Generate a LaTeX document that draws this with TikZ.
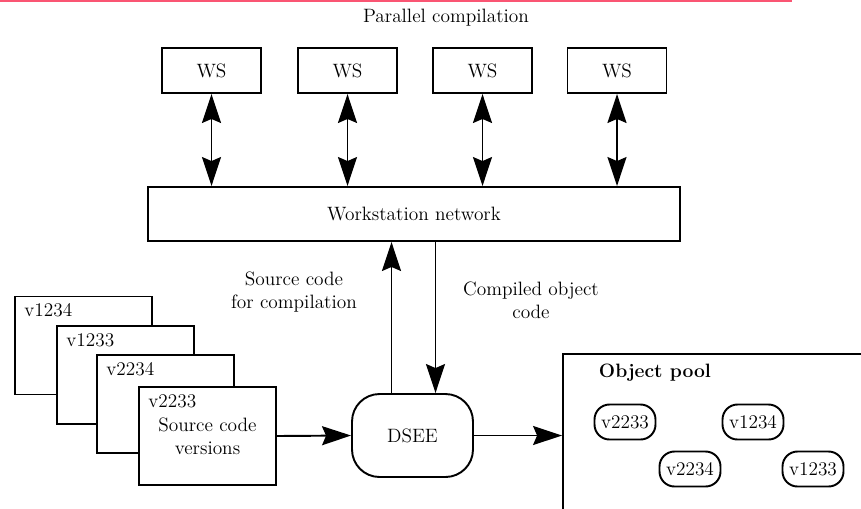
\documentclass[tikz,border=0pt]{standalone}
\usetikzlibrary{arrows.meta}
\definecolor{rulered}{RGB}{250,85,115}
\tikzset{bigtip/.tip = {Stealth[length=0.58cm, width=0.38cm, inset=0.08cm]}}
\begin{document}
\begin{tikzpicture}[
        x=0.02cm, y=-0.02cm,
        every node/.style = {font=\fontsize{11}{13}\selectfont},
        wsbox/.style   = {rectangle, draw, line width=1.1pt, inner sep=0pt,
                          minimum width=1.98cm, minimum height=0.9cm},
        netbox/.style  = {rectangle, draw, line width=1.1pt, inner sep=0pt,
                          minimum width=10.64cm, minimum height=1.08cm},
        srcbox/.style  = {rectangle, draw, fill=white, line width=1.1pt,
                          minimum width=2.74cm, minimum height=1.96cm,
                          align=center},
        dseebox/.style = {rectangle, draw, line width=1.1pt, rounded corners=0.55cm,
                          minimum width=2.42cm, minimum height=1.66cm},
        poolbox/.style = {rectangle, draw, line width=1.1pt,
                          minimum width=8cm, minimum height=4cm},
        objbox/.style  = {rectangle, draw, line width=1.1pt, rounded corners=0.3cm,
                          minimum width=1.22cm, minimum height=0.7cm, inner sep=0pt},
        verlbl/.style  = {anchor=north west, inner sep=0pt},
        lbl/.style     = {align=center},
        arr/.style     = {-bigtip, line width=1.1pt},
        dbl/.style     = {bigtip-bigtip, line width=1.1pt}
    ]
        \useasboundingbox (0,0) rectangle (861,508);
        \draw[rulered, line width=0.03cm] (0,1) -- (792,1);

        \node (title) at (446,18) {Parallel compilation};
        \node[wsbox] (ws1) at (211.5,70.5) {WS};
        \node[wsbox] (ws2) at (347.5,70.5) {WS};
        \node[wsbox] (ws3) at (482.5,70.5) {WS};
        \node[wsbox] (ws4) at (617,70.5)   {WS};
        \node[netbox] (net) at (414,214) {Workstation network};

        \draw[dbl] (ws1.south) -- (ws1.south |- net.north);
        \draw[dbl] (ws2.south) -- (ws2.south |- net.north);
        \draw[dbl] (ws3.south) -- (ws3.south |- net.north);
        \draw[dbl] (ws4.south) -- (ws4.south |- net.north);

        % stacked source versions
        \node[srcbox] (src1) at (83.5,345.5) {};
        \node[verlbl] (v1) at ([shift={(0.2cm,-0.16cm)}]src1.north west) {v1234};
        \node[srcbox] (src2) at (125.5,375) {};
        \node[verlbl] (v2) at ([shift={(0.2cm,-0.16cm)}]src2.north west) {v1233};
        \node[srcbox] (src3) at (165.5,404) {};
        \node[verlbl] (v3) at ([shift={(0.2cm,-0.16cm)}]src3.north west) {v2234};
        \node[srcbox] (src4) at (207.5,436) {Source code\\versions};
        \node[verlbl] (v4) at ([shift={(0.2cm,-0.16cm)}]src4.north west) {v2233};

        \node[dseebox] (dsee) at (412.5,435.5) {DSEE};

        % object pool, running off the page
        \node[poolbox] (pool) at (763,454) {};
        \node[font=\fontsize{11}{13}\selectfont\bfseries] (pooltitle) at (655,373) {Object pool};
        \node[objbox] (o1) at (625,422) {v2233};
        \node[objbox] (o2) at (753,422) {v1234};
        \node[objbox] (o3) at (690,469) {v2234};
        \node[objbox] (o4) at (813,469) {v1233};

        \node[lbl] (uplbl) at (294,292) {Source code\\for compilation};
        \node[lbl] (downlbl) at (531,300) {Compiled object\\code};

        \draw[arr] ([xshift=-0.42cm]dsee.north) -- ([xshift=-0.42cm]dsee.north |- net.south);
        \draw[arr] ([xshift=0.46cm]dsee.north |- net.south) -- ([xshift=0.46cm]dsee.north);
        \draw[arr] (src4.east) -- (dsee.west);
        \draw[arr] (dsee.east) -- (dsee.east -| pool.west);
    \end{tikzpicture}
\end{document}
